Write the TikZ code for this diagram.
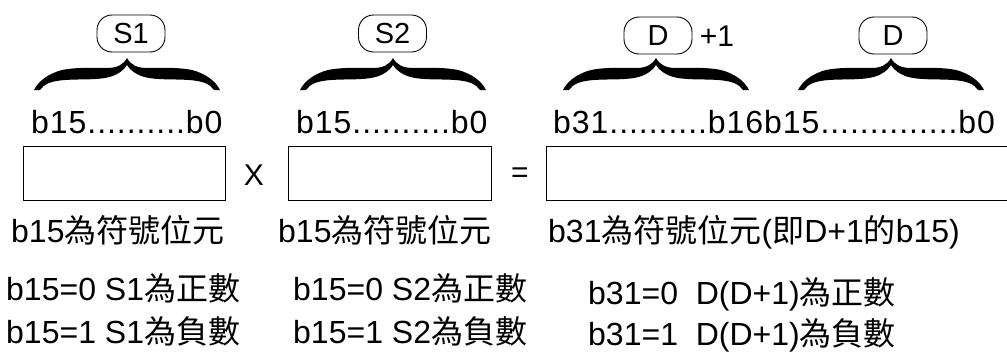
\documentclass[tikz,border=0pt]{standalone}
\usepackage{fontspec}
\setmainfont{Liberation Sans}
\newfontfamily\cjk{Noto Sans CJK TC}
\newfontfamily\spaced[LetterSpace=3]{Liberation Sans}
\tikzset{
  lbl/.style={inner sep=0pt, anchor=base west, font=\fontsize{32}{38}\selectfont},
  bitlbl/.style={inner sep=0pt, anchor=base west, font=\fontsize{32}{38}\spaced},
  regbox/.style={draw, line width=1.2pt, inner sep=0pt, anchor=north west, minimum height=54pt},
  bubble/.style={draw, rounded corners=15pt, minimum width=68pt, minimum height=37pt, inner sep=0pt, line width=0.9pt, font=\fontsize{29}{34}\selectfont},
  opsign/.style={inner sep=0pt, font=\fontsize{30}{36}\selectfont},
  bigbrace/.pic={
    \fill (0,0) .. controls (-4,7) and (-10,10) .. (-20,10)
      .. controls (-35,10) and (-50,9) .. (-65,12)
      .. controls (-80,16) and (-89,24) .. (-93,32)
      -- (-87,32)
      .. controls (-83,26) and (-76,23) .. (-62,22)
      .. controls (-48,21) and (-35,22) .. (-22,20)
      .. controls (-10,18) and (-3,12) .. (0,7)
      .. controls (3,12) and (10,18) .. (22,20)
      .. controls (35,22) and (48,21) .. (62,22)
      .. controls (76,23) and (83,26) .. (87,32)
      -- (93,32)
      .. controls (89,24) and (80,16) .. (65,12)
      .. controls (50,9) and (35,10) .. (20,10)
      .. controls (10,10) and (4,7) .. (0,0) -- cycle;
  }
}
\begin{document}
\begin{tikzpicture}[x=1pt,y=-1pt]
\useasboundingbox (0,0) rectangle (1007,351);
% bubbles
\node[bubble] (s1) at (131,33.5) {S1};
\node[bubble] (s2) at (392.5,33.5) {S2};
\node[bubble] (dh) at (658,35.5) {D};
\node[opsign] (plus) at (717,36) {+1};
\node[bubble] (dl) at (893,35.5) {D};
% braces
\pic at (127,58) {bigbrace};
\pic at (393,58) {bigbrace};
\pic at (656,58) {bigbrace};
\pic at (891,58) {bigbrace};
% bit labels
\node[bitlbl] (t1) at (31,133) {b15..........b0};
\node[bitlbl] (t2) at (296,133) {b15..........b0};
\node[bitlbl] (t3) at (553,133) {b31..........b16b15..............b0};
% registers
\node[regbox, minimum width=202pt] (r1) at (23,146) {};
\node[regbox, minimum width=203pt] (r2) at (288,146) {};
\node[regbox, minimum width=470pt] (r3) at (546,146) {};
\node[opsign] (times) at (254,175) {X};
\node[opsign] (eq) at (520,175) {=};
% sign-bit notes
\node[lbl] (n1) at (11,242) {b15{\cjk 為符號位元}};
\node[lbl] (n2) at (278,242) {b15{\cjk 為符號位元}};
\node[lbl] (n3) at (548,242) {b31{\cjk 為符號位元}({\cjk 即}D+1{\cjk 的}b15)};
\node[lbl] (a1) at (6,300) {b15=0 S1{\cjk 為正數}};
\node[lbl] (a2) at (6,343) {b15=1 S1{\cjk 為負數}};
\node[lbl] (b1) at (293,300) {b15=0 S2{\cjk 為正數}};
\node[lbl] (b2) at (293,343) {b15=1 S2{\cjk 為負數}};
\node[lbl] (c1) at (588,304) {b31=0\ \ D(D+1){\cjk 為正數}};
\node[lbl] (c2) at (588,345) {b31=1\ \ D(D+1){\cjk 為負數}};
\end{tikzpicture}
\end{document}
